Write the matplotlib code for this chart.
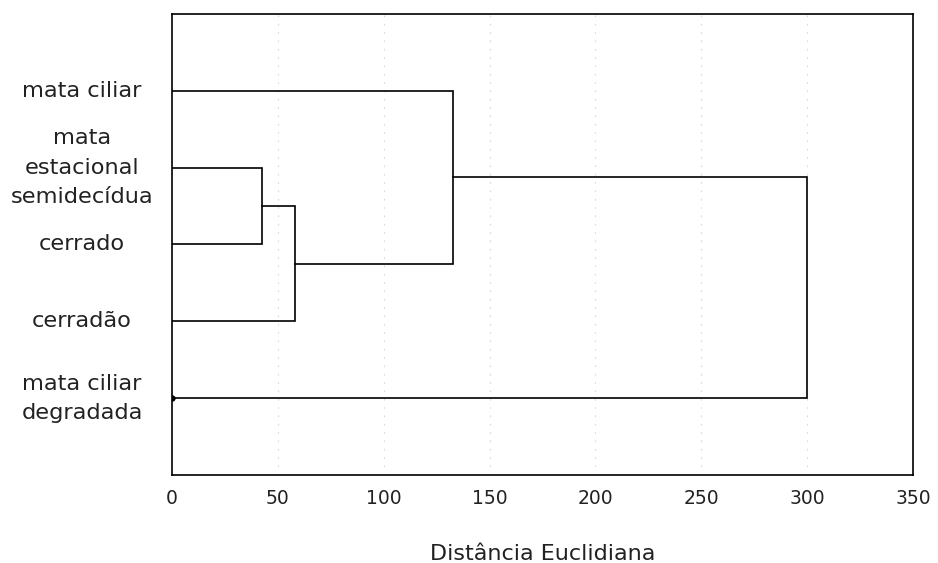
import numpy as np
import matplotlib
matplotlib.use("Agg")
import matplotlib.pyplot as plt
from matplotlib.transforms import blended_transform_factory

# leaves, top to bottom
leaves = ["mata ciliar", "mata\nestacional\nsemidecídua", "cerrado",
          "cerradão", "mata ciliar\ndegradada"]
# merges: (node a, node b, distance); new nodes get index 5, 6, ...
merges = [(1, 2, 42.5), (5, 3, 58.0), (0, 6, 132.5), (7, 4, 300.0)]
xticks = [0, 50, 100, 150, 200, 250, 300, 350]

fig = plt.figure(figsize=(9.38, 5.63), dpi=100)
ax = fig.add_axes([0.1834, 0.1563, 0.79, 0.819])

pos = {i: (0.0, i + 1.0) for i in range(len(leaves))}
for k, (a, b, h) in enumerate(merges):
    xa, ya = pos[a]
    xb, yb = pos[b]
    ax.plot([xa, h, h, xb], [ya, ya, yb, yb], color="black", lw=1.2,
            solid_joinstyle="miter", zorder=3)
    pos[len(leaves) + k] = (h, (ya + yb) / 2)

ax.plot([0], [len(leaves)], "o", color="black", ms=3.5, zorder=4)

for x in xticks[1:-1]:
    ax.axvline(x, color="#d8d8d8", lw=0.8, ls=(0, (1.5, 6)), zorder=1)

ax.set_xlim(0, 350)
ax.set_ylim(len(leaves) + 1, 0)
ax.set_xticks(xticks)
ax.set_yticks([])
ax.tick_params(axis="x", length=0, pad=10, labelsize=13.5, colors="#222222")
for s in ax.spines.values():
    s.set_linewidth(1.2)

tr = blended_transform_factory(fig.transFigure, ax.transData)
for i, name in enumerate(leaves):
    ax.text(82 / 938, i + 1, name, transform=tr, ha="center", va="center",
            multialignment="center", fontsize=16.2, linespacing=1.57,
            color="#222222")

ax.set_xlabel("Distância Euclidiana", fontsize=16, labelpad=26, color="#222222")

fig.savefig("out.png", dpi=100)
